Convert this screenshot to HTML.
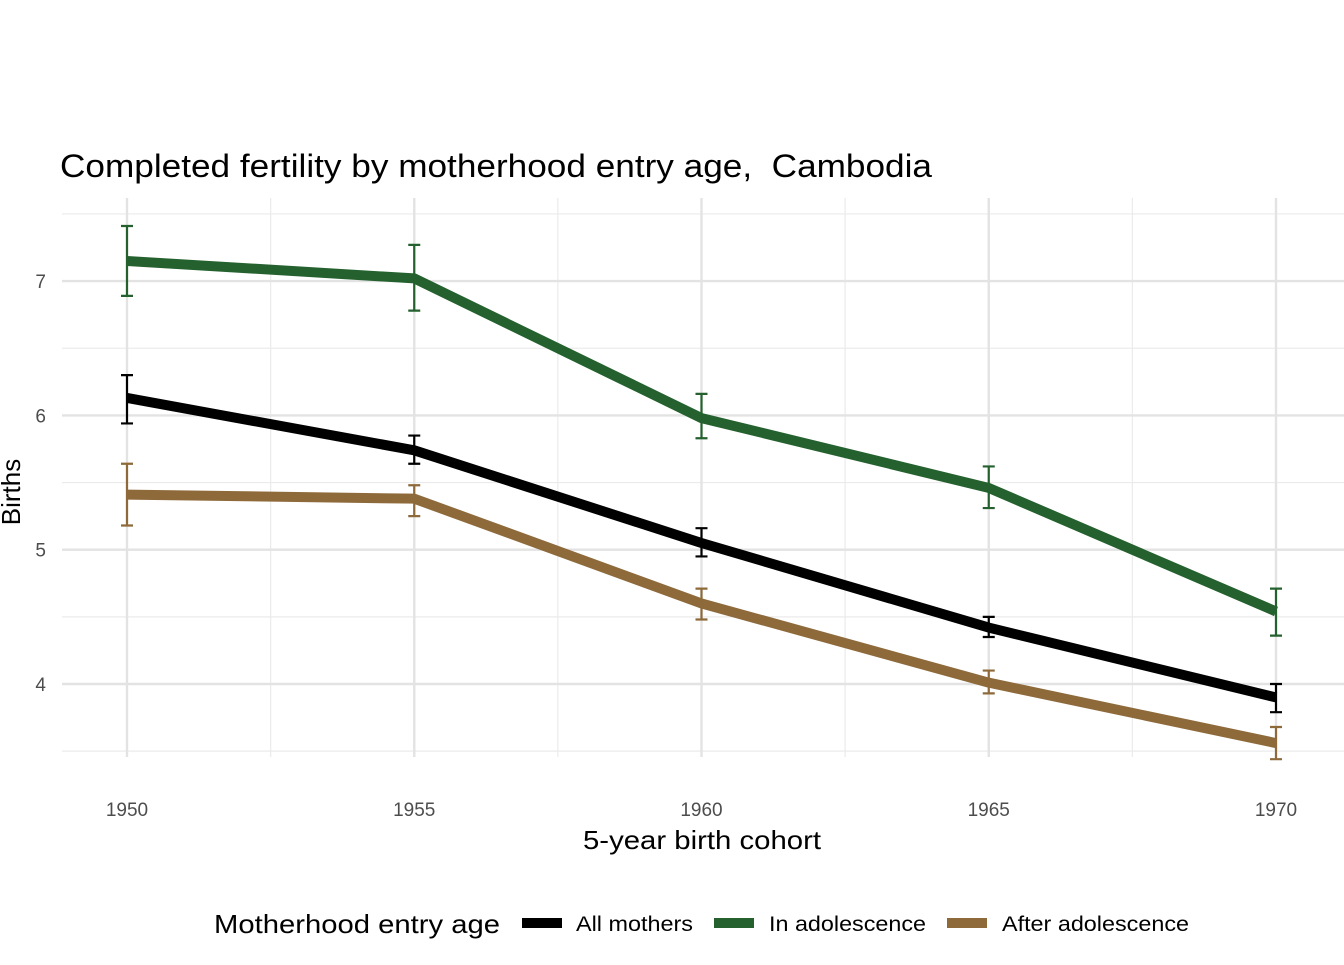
<!DOCTYPE html>
<html><head><meta charset="utf-8"><style>
body{margin:0;background:#fff;font-family:"Liberation Sans",Arial,sans-serif}
</style></head><body>
<svg width="1344" height="960" viewBox="0 0 1344 960">
<text x="60" y="177" font-size="32" fill="#000" textLength="872" lengthAdjust="spacingAndGlyphs">Completed fertility by motherhood entry age,&#160; Cambodia</text>
<g id="grid"></g>
<g id="series"></g>
<g id="axes"></g>
<text x="583" y="849" font-size="26" textLength="238" lengthAdjust="spacingAndGlyphs">5-year birth cohort</text>
<text transform="translate(20,492) rotate(-90)" font-size="26" text-anchor="middle">Births</text>
<g>
<text x="214" y="933" font-size="26" textLength="286" lengthAdjust="spacingAndGlyphs">Motherhood entry age</text>
<g><line x1="522" x2="562" y1="923" y2="923" stroke="#000" stroke-width="10"/><text x="576" y="931" font-size="21" textLength="117" lengthAdjust="spacingAndGlyphs">All mothers</text></g>
<g><line x1="714" x2="754" y1="923" y2="923" stroke="#24612e" stroke-width="10"/><text x="769" y="931" font-size="21" textLength="157" lengthAdjust="spacingAndGlyphs">In adolescence</text></g>
<g><line x1="947" x2="987" y1="923" y2="923" stroke="#8e6a3b" stroke-width="10"/><text x="1002" y="931" font-size="21" textLength="187" lengthAdjust="spacingAndGlyphs">After adolescence</text></g>
</g>
</svg>
<script>
const years=[1950,1955,1960,1965,1970];
const yTicks=[4,5,6,7];
const allMean=[6.13,5.74,5.05,4.42,3.90];
const allLo=[5.94,5.64,4.95,4.35,3.79];
const allHi=[6.30,5.85,5.16,4.50,4.00];
const adoMean=[7.15,7.02,5.98,5.46,4.54];
const adoLo=[6.89,6.78,5.83,5.31,4.36];
const adoHi=[7.41,7.27,6.16,5.62,4.71];
const aftMean=[5.41,5.38,4.60,4.01,3.56];
const aftLo=[5.18,5.25,4.48,3.93,3.44];
const aftHi=[5.64,5.48,4.71,4.10,3.68];
const NS="http://www.w3.org/2000/svg";
const X=v=>127+(v-1950)*57.45;
const Y=v=>684-(v-4)*134.3;
const L=62,R=1344,T=198,B=757;
function mk(t,a,p){const e=document.createElementNS(NS,t);for(const k in a)e.setAttribute(k,a[k]);p.appendChild(e);return e;}
const g=document.getElementById('grid'),s=document.getElementById('series'),ax=document.getElementById('axes');
for(let v=3.5;v<=7.5;v+=1){const e=mk('line',{x1:L,x2:R,y1:Y(v),y2:Y(v),stroke:'#ebebeb','stroke-width':1.2},g);

}
for(let v=1952.5;v<1975;v+=5){const e=mk('line',{x1:X(v),x2:X(v),y1:T,y2:B,stroke:'#ebebeb','stroke-width':1.2},g);

}
yTicks.forEach(v=>{const e=mk('line',{x1:L,x2:R,y1:Y(v),y2:Y(v),stroke:'#e3e3e3','stroke-width':2.4},g);


const t=mk('text',{x:46,y:Y(v)+7,'font-size':19,fill:'#4d4d4d','text-anchor':'end'},ax);t.textContent=v;

});
years.forEach(v=>{const e=mk('line',{x1:X(v),x2:X(v),y1:T,y2:B,stroke:'#e3e3e3','stroke-width':2.4},g);


const t=mk('text',{x:X(v),y:816,'font-size':19,fill:'#4d4d4d','text-anchor':'middle'},ax);t.textContent=v;

});
function series(name,m,lo,hi,col){
const p=mk('polyline',{points:years.map((y,i)=>X(y)+','+Y(m[i])).join(' '),fill:'none',stroke:col,'stroke-width':10,'stroke-linejoin':'round'},s);


years.forEach((y,i)=>{const x=X(y);const e=mk('path',{d:`M${x-6},${Y(hi[i])}H${x+6}M${x},${Y(hi[i])}V${Y(lo[i])}M${x-6},${Y(lo[i])}H${x+6}`,stroke:col,'stroke-width':2.2,fill:'none'},s);

});
}
series('adolescence',adoMean,adoLo,adoHi,'#24612e');
series('all-mothers',allMean,allLo,allHi,'#000000');
series('after-adolescence',aftMean,aftLo,aftHi,'#8e6a3b');
</script>
</body></html>
